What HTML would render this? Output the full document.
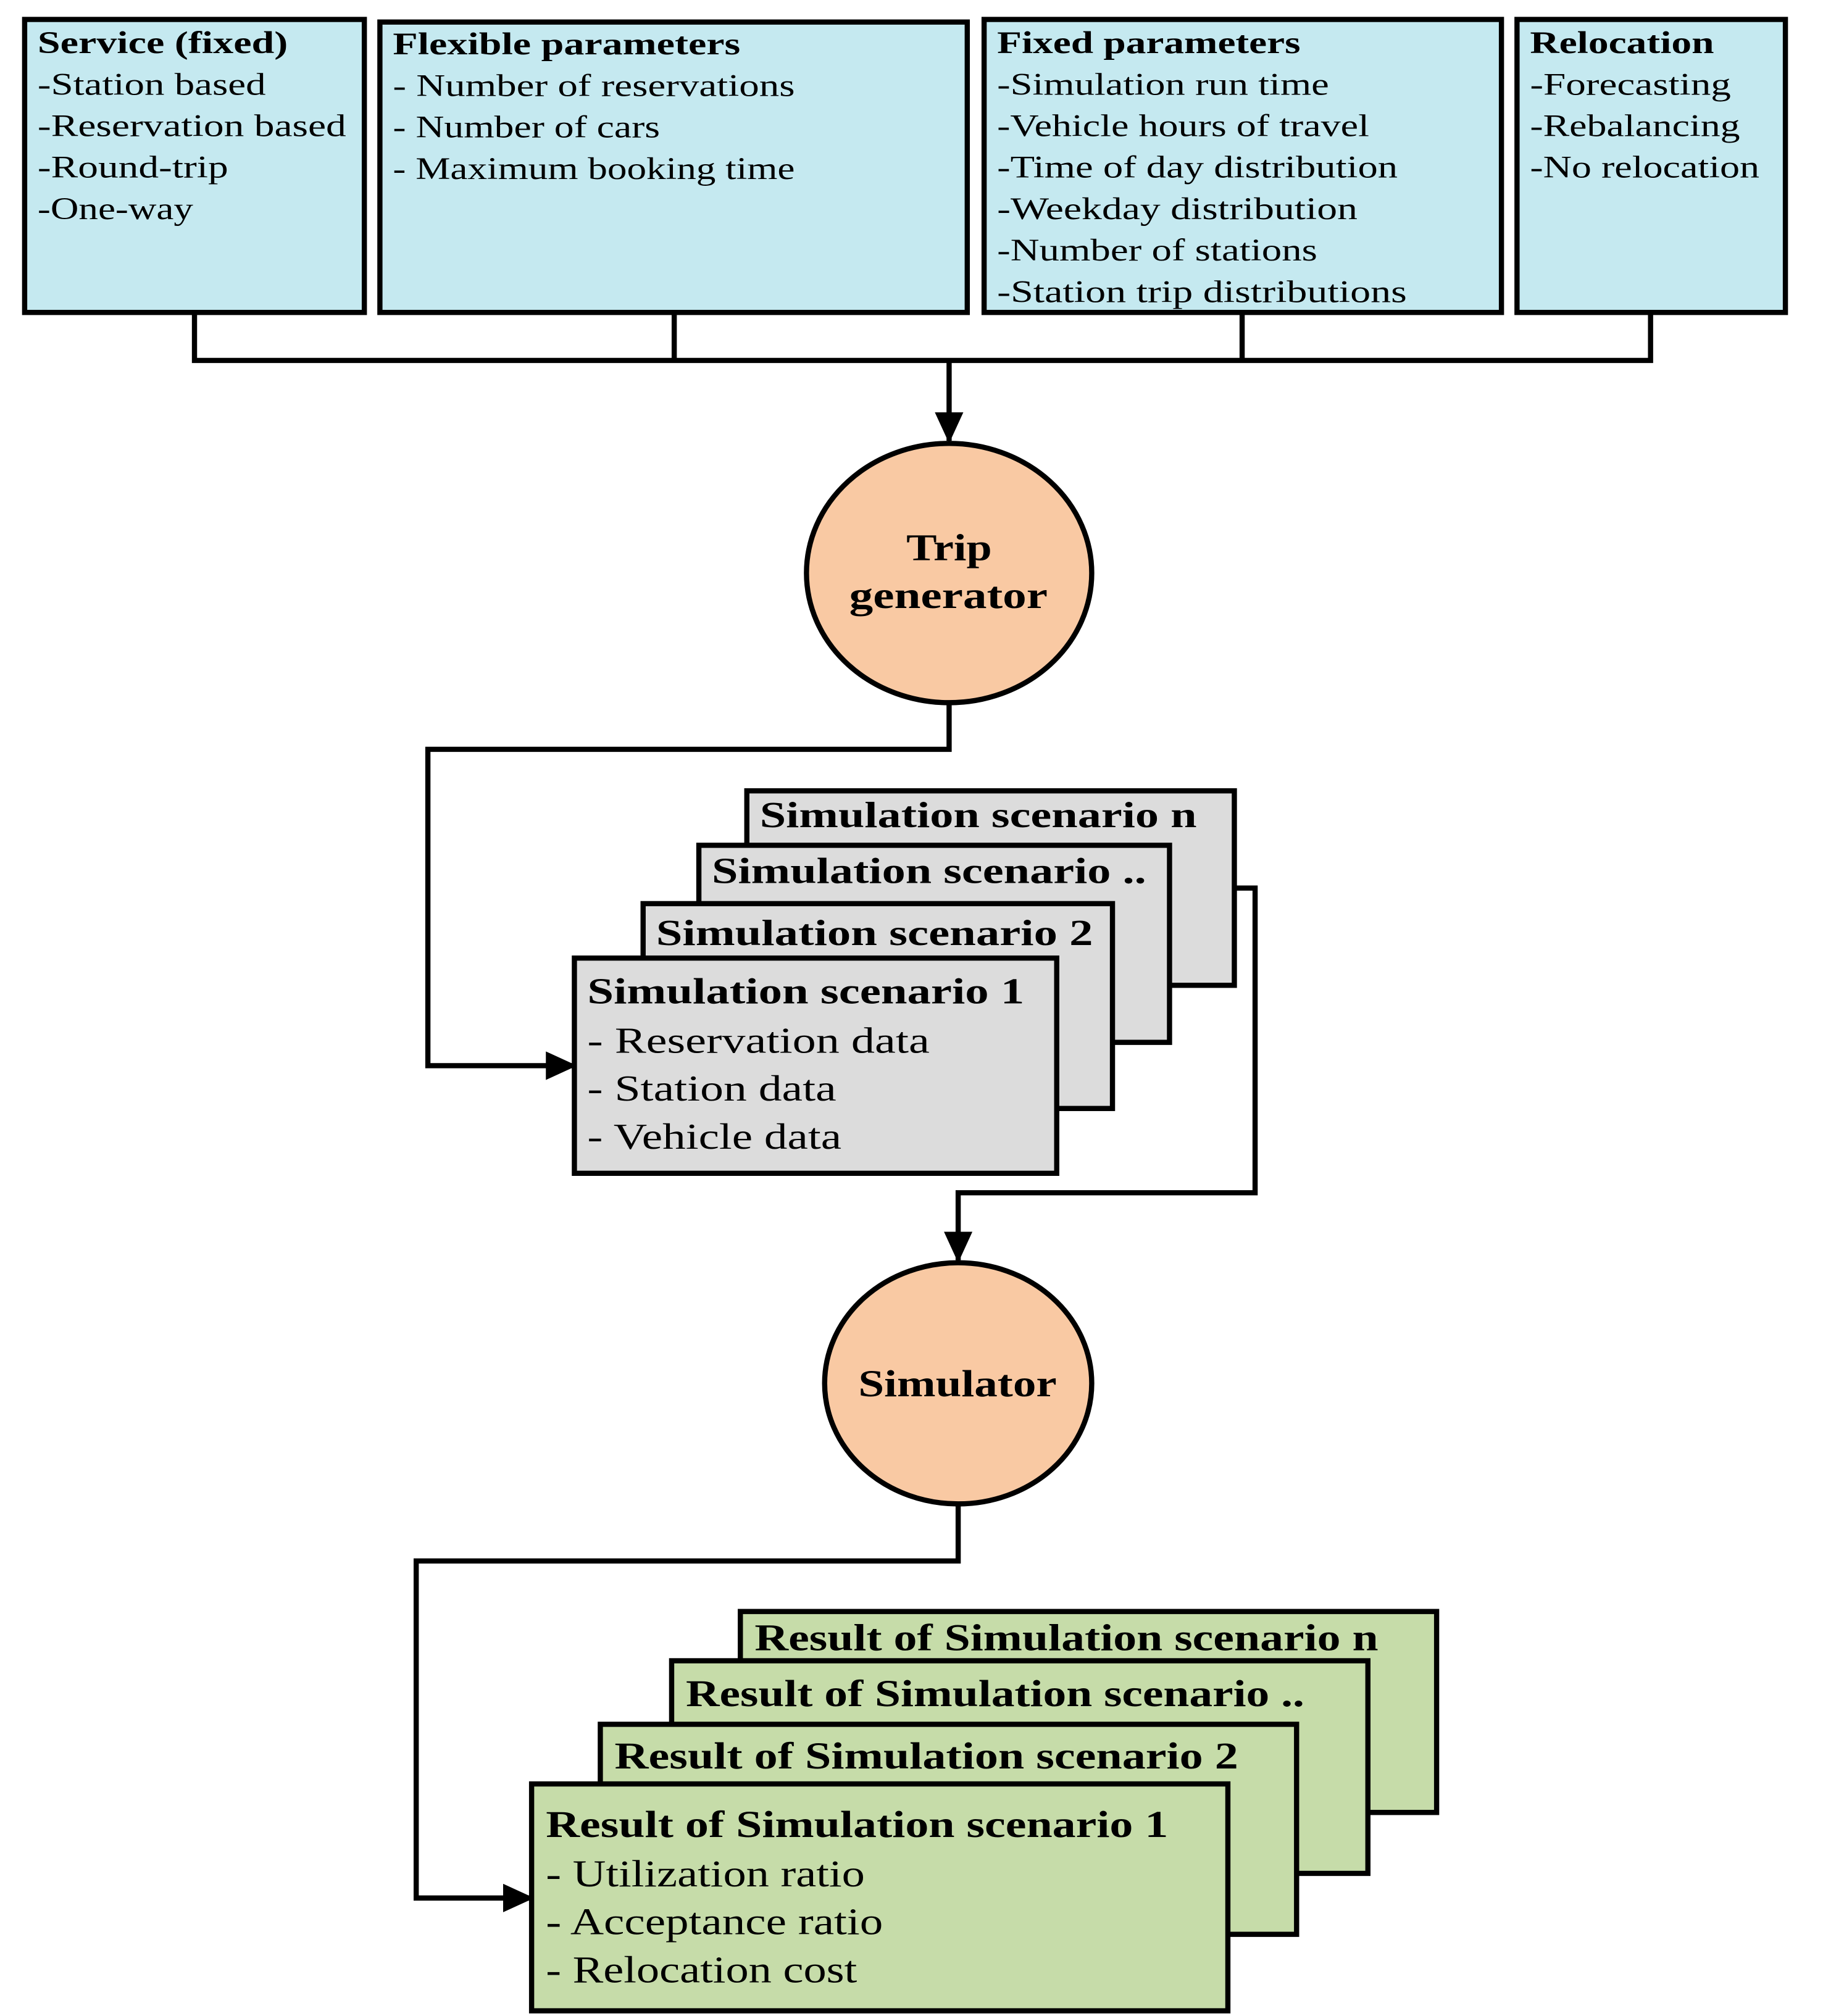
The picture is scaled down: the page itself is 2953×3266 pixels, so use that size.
<!DOCTYPE html>
<html><head><meta charset="utf-8"><style>
html,body{margin:0;padding:0;background:#fff;}
svg{display:block;}
text{font-family:"Liberation Serif","DejaVu Serif",serif;fill:#000;}
.h{font-weight:bold;}
</style></head><body>
<svg width="2953" height="3266" viewBox="0 0 1406 1555" preserveAspectRatio="none" xmlns="http://www.w3.org/2000/svg">
<defs><marker id="a" markerWidth="24" markerHeight="22" refX="22" refY="11" orient="auto" markerUnits="userSpaceOnUse" viewBox="0 0 24 22"><path d="M0,0 L24,11 L0,22 z" fill="#000"/></marker></defs>
<g stroke="#000" stroke-width="4" fill="#c5e9f0">
<rect x="19" y="15" width="262" height="226"/>
<rect x="293" y="17" width="453" height="224"/>
<rect x="759" y="15" width="399" height="226"/>
<rect x="1170" y="15" width="207" height="226"/>
</g>
<g font-size="24" lengthAdjust="spacingAndGlyphs">
<text x="29" y="41" class="h" textLength="193" lengthAdjust="spacingAndGlyphs">Service (fixed)</text>
<text x="29" y="73" textLength="176" lengthAdjust="spacingAndGlyphs">-Station based</text>
<text x="29" y="105" textLength="238" lengthAdjust="spacingAndGlyphs">-Reservation based</text>
<text x="29" y="137" textLength="147" lengthAdjust="spacingAndGlyphs">-Round-trip</text>
<text x="29" y="169" textLength="120" lengthAdjust="spacingAndGlyphs">-One-way</text>
<text x="303" y="42" class="h" textLength="268" lengthAdjust="spacingAndGlyphs">Flexible parameters</text>
<text x="303" y="74" textLength="310" lengthAdjust="spacingAndGlyphs">- Number of reservations</text>
<text x="303" y="106" textLength="206" lengthAdjust="spacingAndGlyphs">- Number of cars</text>
<text x="303" y="138" textLength="310" lengthAdjust="spacingAndGlyphs">- Maximum booking time</text>
<text x="769" y="41" class="h" textLength="234" lengthAdjust="spacingAndGlyphs">Fixed parameters</text>
<text x="769" y="73" textLength="256" lengthAdjust="spacingAndGlyphs">-Simulation run time</text>
<text x="769" y="105" textLength="287" lengthAdjust="spacingAndGlyphs">-Vehicle hours of travel</text>
<text x="769" y="137" textLength="309" lengthAdjust="spacingAndGlyphs">-Time of day distribution</text>
<text x="769" y="169" textLength="278" lengthAdjust="spacingAndGlyphs">-Weekday distribution</text>
<text x="769" y="201" textLength="247" lengthAdjust="spacingAndGlyphs">-Number of stations</text>
<text x="769" y="233" textLength="316" lengthAdjust="spacingAndGlyphs">-Station trip distributions</text>
<text x="1180" y="41" class="h" textLength="142" lengthAdjust="spacingAndGlyphs">Relocation</text>
<text x="1180" y="73" textLength="155" lengthAdjust="spacingAndGlyphs">-Forecasting</text>
<text x="1180" y="105" textLength="162" lengthAdjust="spacingAndGlyphs">-Rebalancing</text>
<text x="1180" y="137" textLength="177" lengthAdjust="spacingAndGlyphs">-No relocation</text>
</g>
<g stroke="#000" stroke-width="4" fill="none">
<polyline points="150,241 150,278 1273,278 1273,241"/>
<line x1="520" y1="241" x2="520" y2="278"/>
<line x1="958" y1="241" x2="958" y2="278"/>
<line x1="732" y1="278" x2="732" y2="340" marker-end="url(#a)" />
<polyline points="732,542 732,578 330,578 330,822 443,822" marker-end="url(#a)"/>
<polyline points="952,685 968,685 968,920 739,920 739,972" marker-end="url(#a)"/>
<polyline points="739,1160 739,1204 321,1204 321,1464 410,1464" marker-end="url(#a)"/>
</g>
<g stroke="#000" stroke-width="4" fill="#f9c9a3">
<ellipse cx="732" cy="442" rx="110" ry="100"/>
<ellipse cx="739" cy="1067" rx="103" ry="93"/>
</g>
<text x="699" y="432" font-size="29" class="h" textLength="66" lengthAdjust="spacingAndGlyphs">Trip</text>
<text x="655" y="469" font-size="29" class="h" textLength="153" lengthAdjust="spacingAndGlyphs">generator</text>
<text x="662" y="1077" font-size="29" class="h" textLength="153" lengthAdjust="spacingAndGlyphs">Simulator</text>
<g stroke="#000" stroke-width="4" fill="#dcdcdc">
<rect x="576" y="610" width="376" height="150"/>
<rect x="539" y="652" width="363" height="152"/>
<rect x="496" y="697" width="362" height="158"/>
<rect x="443" y="739" width="372" height="166"/>
</g>
<g font-size="28">
<text x="586" y="638" class="h" textLength="337" lengthAdjust="spacingAndGlyphs">Simulation scenario n</text>
<text x="549" y="681" class="h" textLength="335" lengthAdjust="spacingAndGlyphs">Simulation scenario ..</text>
<text x="506" y="729" class="h" textLength="337" lengthAdjust="spacingAndGlyphs">Simulation scenario 2</text>
<text x="453" y="774" class="h" textLength="337" lengthAdjust="spacingAndGlyphs">Simulation scenario 1</text>
<text x="453" y="812" textLength="264" lengthAdjust="spacingAndGlyphs">- Reservation data</text>
<text x="453" y="849" textLength="192" lengthAdjust="spacingAndGlyphs">- Station data</text>
<text x="453" y="886" textLength="196" lengthAdjust="spacingAndGlyphs">- Vehicle data</text>
</g>
<g stroke="#000" stroke-width="4" fill="#c6dca9">
<rect x="571" y="1243" width="537" height="155"/>
<rect x="518" y="1281" width="537" height="164"/>
<rect x="463" y="1330" width="537" height="162"/>
<rect x="410" y="1376" width="537" height="175"/>
</g>
<g font-size="29">
<text x="582" y="1273" class="h" textLength="481" lengthAdjust="spacingAndGlyphs">Result of Simulation scenario n</text>
<text x="529" y="1316" class="h" textLength="477" lengthAdjust="spacingAndGlyphs">Result of Simulation scenario ..</text>
<text x="474" y="1364" class="h" textLength="481" lengthAdjust="spacingAndGlyphs">Result of Simulation scenario 2</text>
<text x="421" y="1417" class="h" textLength="480" lengthAdjust="spacingAndGlyphs">Result of Simulation scenario 1</text>
<text x="421" y="1455" textLength="246" lengthAdjust="spacingAndGlyphs">- Utilization ratio</text>
<text x="421" y="1492" textLength="260" lengthAdjust="spacingAndGlyphs">- Acceptance ratio</text>
<text x="421" y="1529" textLength="240" lengthAdjust="spacingAndGlyphs">- Relocation cost</text>
</g>
</svg>
</body></html>
